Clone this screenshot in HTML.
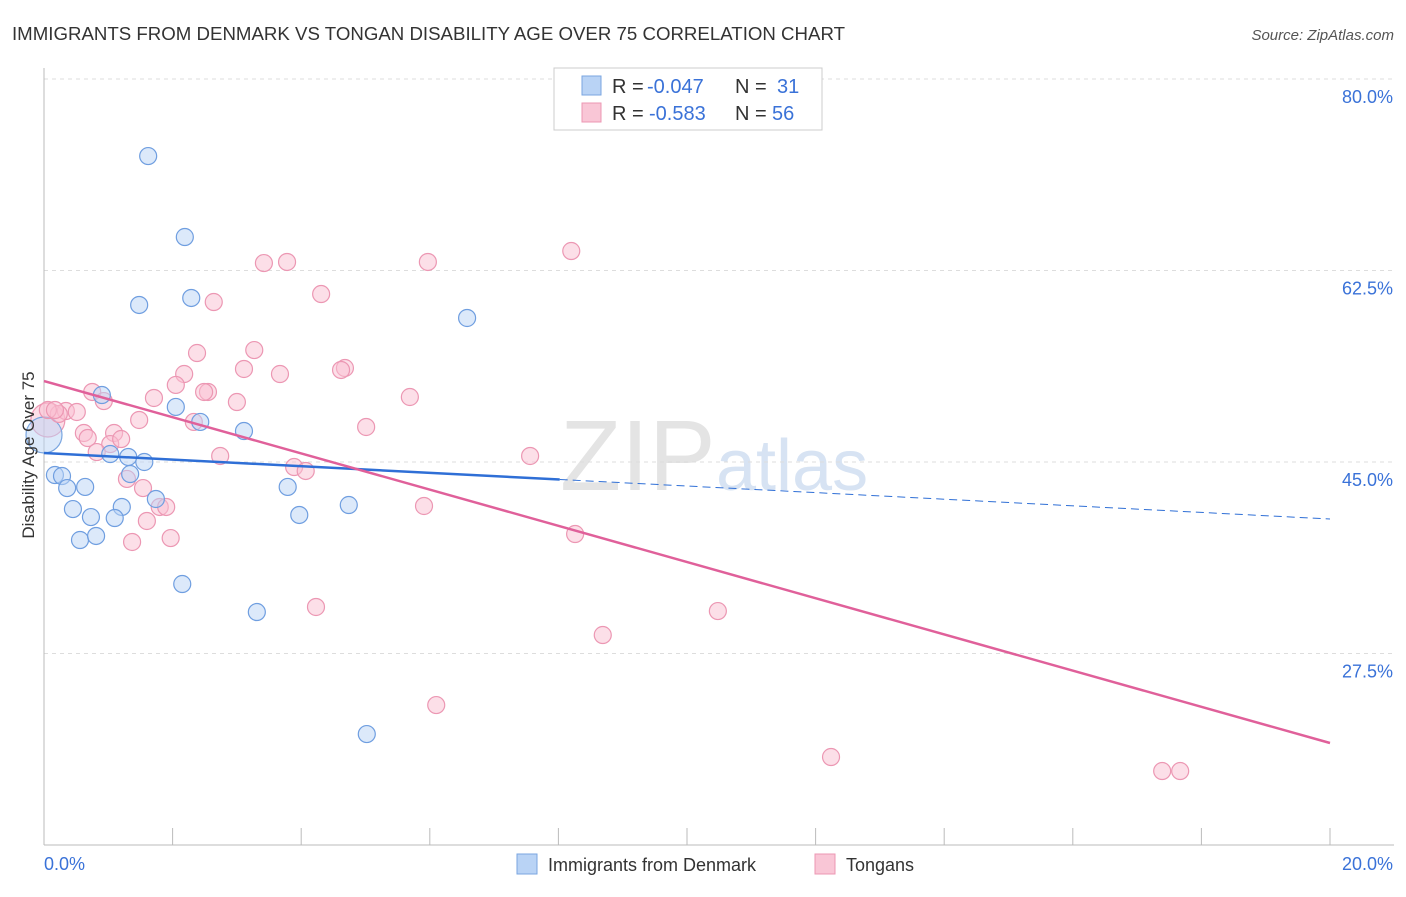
<!DOCTYPE html>
<html><head><meta charset="utf-8"><style>
body{margin:0;background:#fff;font-family:"Liberation Sans",sans-serif}
svg text{font-family:"Liberation Sans",sans-serif}
</style></head><body>
<svg id="chart" width="1406" height="892" xmlns="http://www.w3.org/2000/svg">
<text x="12" y="40" font-size="18" fill="#333" textLength="833" lengthAdjust="spacingAndGlyphs">IMMIGRANTS FROM DENMARK VS TONGAN DISABILITY AGE OVER 75 CORRELATION CHART</text>
<text x="1394" y="40" font-size="15" fill="#555" font-style="italic" text-anchor="end">Source: ZipAtlas.com</text>
<text x="560" y="490" font-size="100" fill="#e4e4e4" font-family="Liberation Serif">ZIP</text>
<text x="716" y="490" font-size="72" fill="#d7e3f3">atlas</text>
<g id="grid"></g>
<g id="axes"></g>
<g id="marks"></g>
<text transform="translate(34,455) rotate(-90)" font-size="17" fill="#333" text-anchor="middle">Disability Age Over 75</text>
<g>
<rect x="554" y="68" width="268" height="62" fill="#fff" stroke="#ccc"/>
<rect x="582" y="76" width="19" height="19" fill="#b9d3f5" stroke="#7aa6e0"/>
<rect x="582" y="103" width="19" height="19" fill="#f9c6d6" stroke="#ec97b3"/>
<text x="612" y="93" font-size="20" fill="#333">R =</text>
<text x="647" y="93" font-size="20" fill="#3a72d8">-0.047</text>
<text x="735" y="93" font-size="20" fill="#333">N =</text>
<text x="777" y="93" font-size="20" fill="#3a72d8">31</text>
<text x="612" y="120" font-size="20" fill="#333">R =</text>
<text x="649" y="120" font-size="20" fill="#3a72d8">-0.583</text>
<text x="735" y="120" font-size="20" fill="#333">N =</text>
<text x="772" y="120" font-size="20" fill="#3a72d8">56</text>
</g>
<g>
<rect x="517" y="854" width="20" height="20" fill="#b9d3f5" stroke="#7aa6e0"/>
<text x="548" y="871" font-size="18" fill="#333">Immigrants from Denmark</text>
<rect x="815" y="854" width="20" height="20" fill="#f9c6d6" stroke="#ec97b3"/>
<text x="846" y="871" font-size="18" fill="#333">Tongans</text>
</g>
</svg>
<script>
const blueX=[1.62,2.19,1.48,2.29,6.58,0.90,2.05,2.43,3.11,1.03,1.31,1.56,1.34,0.17,0.28,0.36,0.64,3.79,1.74,1.21,0.45,0.73,1.10,3.97,4.74,0.56,0.81,2.15,3.31,5.02];
const blueY=[72.96,65.56,59.35,59.99,58.16,51.12,50.03,48.66,47.83,45.73,45.46,45.0,43.90,43.81,43.72,42.62,42.72,42.72,41.62,40.89,40.70,39.97,39.88,40.16,41.07,37.87,38.24,33.85,31.29,20.14];
const pinkX=[8.20,3.42,3.78,5.97,4.31,2.64,2.38,3.27,4.68,4.62,3.11,3.67,2.18,2.05,0.75,2.55,2.49,1.71,0.93,5.69,3.00,0.34,0.51,0.23,0.06,1.48,2.33,5.01,0.62,1.09,0.68,1.03,1.20,0.82,2.74,7.56,3.89,4.07,1.29,1.54,1.80,1.90,5.91,1.60,8.26,1.37,1.97,4.23,10.48,8.69,6.10,12.24,17.39,17.67,0.17];
const pinkY=[64.28,63.18,63.28,63.28,60.35,59.62,54.96,55.23,53.59,53.41,53.50,53.04,53.04,52.04,51.40,51.40,51.40,50.85,50.57,50.94,50.48,49.66,49.57,49.39,49.75,48.84,48.66,48.20,47.65,47.65,47.19,46.64,47.10,45.91,45.55,45.55,44.54,44.18,43.45,42.62,40.89,40.89,40.98,39.61,38.42,37.69,38.05,31.75,31.38,29.19,22.79,18.04,16.76,16.76,49.75];
const bigBlue=[0.0,47.47];
const bigPink=[0.06,48.84];
const blueTrend=[45.82,39.79];
const blueSolidEnd=8.02;
const pinkTrend=[52.40,19.32];
const yTicks=[80,62.5,45,27.5];
const yTickLabels=["80.0%","62.5%","45.0%","27.5%"];
const xTicks=[0,2,4,6,8,10,12,14,16,18,20];

const NS="http://www.w3.org/2000/svg";
const xs=v=>44+v*64.3;
const ys=v=>462-(v-45)*191.5/17.5;
function mk(tag,attrs,parent){const e=document.createElementNS(NS,tag);for(const k in attrs)e.setAttribute(k,attrs[k]);document.getElementById(parent).appendChild(e);return e;}

yTicks.forEach((t,i)=>{
 const l=mk('line',{x1:44,x2:1394,y1:ys(t),y2:ys(t),stroke:'#ddd','stroke-dasharray':'4,4'},'grid');
 
 
 const tx=mk('text',{x:1393,y:ys(t)+24,'font-size':18,fill:'#3a72d8','text-anchor':'end'},'grid');
 tx.textContent=yTickLabels[i];
 
 
});
const ax=mk('line',{x1:44,x2:44,y1:68,y2:845,stroke:'#bbb'},'axes');


const bx=mk('line',{x1:44,x2:1394,y1:845,y2:845,stroke:'#bbb'},'axes');


xTicks.forEach(t=>{
 const l=mk('line',{x1:xs(t),x2:xs(t),y1:828,y2:845,stroke:'#bbb'},'axes');
 
 
});
const x0=mk('text',{x:44,y:870,'font-size':18,fill:'#3a72d8'},'axes');x0.textContent='0.0%';


const x1=mk('text',{x:1393,y:870,'font-size':18,fill:'#3a72d8','text-anchor':'end'},'axes');x1.textContent='20.0%';



function dot(x,y,r,fill,stroke,name){
 const c=mk('circle',{cx:xs(x),cy:ys(y),r:r,fill:fill,'fill-opacity':0.5,stroke:stroke,'stroke-width':1.2},'marks');
 
 
}
dot(bigPink[0],bigPink[1],17,'#f9c0d2','#ec97b3','tongan-point');
dot(bigBlue[0],bigBlue[1],18,'#b9d3f5','#7aa6e0','denmark-point');
pinkX.forEach((x,i)=>dot(x,pinkY[i],8.5,'#f9c0d2','#ec97b3','tongan-point'));
blueX.forEach((x,i)=>dot(x,blueY[i],8.5,'#b9d3f5','#6f9ee0','denmark-point'));

const bAt=v=>blueTrend[0]+(blueTrend[1]-blueTrend[0])*v/20;
const b1=mk('line',{x1:xs(0),y1:ys(bAt(0)),x2:xs(blueSolidEnd),y2:ys(bAt(blueSolidEnd)),stroke:'#2f6fd6','stroke-width':2.5},'marks');


const b2=mk('line',{x1:xs(blueSolidEnd),y1:ys(bAt(blueSolidEnd)),x2:xs(20),y2:ys(bAt(20)),stroke:'#2f6fd6','stroke-width':1,'stroke-dasharray':'8,5'},'marks');


const p1=mk('line',{x1:xs(0),y1:ys(pinkTrend[0]),x2:xs(20),y2:ys(pinkTrend[1]),stroke:'#e0609a','stroke-width':2.5},'marks');


</script>
</body></html>
